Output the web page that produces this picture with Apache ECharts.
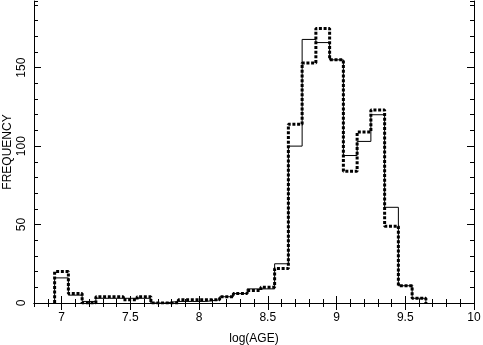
<!DOCTYPE html>
<html>
<head>
<meta charset="utf-8">
<script src="https://cdn.jsdelivr.net/npm/echarts@6/dist/echarts.min.js"></script>
<style>
html, body { margin: 0; padding: 0; background: #fff; }
#chart { width: 483px; height: 345px; }
</style>
</head>
<body>
<div id="chart"></div>
<script>
// histogram bins (centres), width 0.1 in log(AGE)
const binCenters = [7.0, 7.1, 7.2, 7.3, 7.4, 7.5, 7.6, 7.7, 7.8, 7.9, 8.0, 8.1, 8.2, 8.3,
  8.4, 8.5, 8.6, 8.7, 8.8, 8.9, 9.0, 9.1, 9.2, 9.3, 9.4, 9.5, 9.6]
const binWidth = 0.1
const solidCounts = [16, 5, 1, 3, 3, 3, 3, 0, 1, 1, 1, 2, 4, 6,
  9, 9, 25, 100, 168, 166, 155, 94, 103, 120, 61, 11, 3]
const dottedCounts = [20, 6, 0, 4, 4, 2, 4, 0, 0, 2, 2, 2, 4, 6,
  8, 10, 22, 114, 153, 175, 155, 84, 109, 123, 49, 11, 3]
const xMajorTicks = [7, 7.5, 8, 8.5, 9, 9.5, 10]
const yMajorTicks = [0, 50, 100, 150]

const X_MIN = 6.8
const X_MAX = 10
const Y_MAX = 192.5

// step outline: start at baseline, one point per right bin edge, back to baseline
function outline(counts) {
  const half = binWidth / 2
  const pts = [[+(binCenters[0] - half).toFixed(3), 0]]
  binCenters.forEach((c, i) => {
    pts.push([+(c + half).toFixed(3), counts[i]])
  })
  pts.push([+(binCenters[binCenters.length - 1] + half).toFixed(3), 0])
  return pts
}

const font = 'Liberation Sans'
const isMajor = (v, step) => Math.abs(v / step - Math.round(v / step)) < 1e-6

function xAxisDef(position, major) {
  return {
    type: 'value',
    position: position,
    min: X_MIN,
    max: X_MAX,
    interval: 0.1,
    axisLine: { show: !major, lineStyle: { color: '#000', width: 1 } },
    axisTick: major
      ? { show: true, inside: true, length: 7, customValues: xMajorTicks, lineStyle: { color: '#000' } }
      : { show: true, inside: true, length: 4, lineStyle: { color: '#000' } },
    axisLabel: (position === 'bottom' && !major)
      ? {
          show: true,
          margin: 9,
          color: '#000',
          fontFamily: font,
          fontSize: 12,
          formatter: v => isMajor(v, 0.5) ? String(+v.toFixed(1)) : ''
        }
      : { show: false },
    splitLine: { show: false },
    name: (position === 'bottom' && !major) ? 'log(AGE)' : '',
    nameLocation: 'middle',
    nameGap: 30,
    nameMoveOverlap: false,
    nameTextStyle: { color: '#000', fontFamily: font, fontSize: 12 }
  }
}

function yAxisDef(position, major) {
  return {
    type: 'value',
    position: position,
    min: 0,
    max: Y_MAX,
    interval: 10,
    axisLine: { show: !major, lineStyle: { color: '#000', width: 1 } },
    axisTick: major
      ? { show: true, inside: true, length: 7, customValues: yMajorTicks, lineStyle: { color: '#000' } }
      : { show: true, inside: true, length: 4, lineStyle: { color: '#000' } },
    axisLabel: (position === 'left' && !major)
      ? {
          show: true,
          rotate: 90,
          margin: 6,
          color: '#000',
          fontFamily: font,
          fontSize: 12,
          formatter: v => isMajor(v, 50) ? String(Math.round(v)) : ''
        }
      : { show: false },
    splitLine: { show: false },
    name: (position === 'left' && !major) ? 'FREQUENCY' : '',
    nameLocation: 'middle',
    nameRotate: 90,
    nameGap: 20,
    nameMoveOverlap: false,
    nameTextStyle: { color: '#000', fontFamily: font, fontSize: 12 }
  }
}

const myChart = echarts.init(document.getElementById('chart'), null, { renderer: 'canvas' })
const option = {
  animation: false,
  backgroundColor: '#fff',
  grid: {
    left: 34,
    right: 9,
    top: 1,
    bottom: 42,
    containLabel: false,
    outerBoundsMode: 'none'
  },
  xAxis: [
    xAxisDef('bottom', false),
    xAxisDef('bottom', true),
    xAxisDef('top', false),
    xAxisDef('top', true)
  ],
  yAxis: [
    yAxisDef('left', false),
    yAxisDef('left', true),
    yAxisDef('right', false),
    yAxisDef('right', true)
  ],
  series: [
    {
      name: 'solid',
      type: 'line',
      step: 'start',
      showSymbol: false,
      silent: true,
      lineStyle: { color: '#000', width: 1 },
      data: outline(solidCounts)
    },
    {
      name: 'dotted',
      type: 'line',
      step: 'start',
      showSymbol: false,
      silent: true,
      lineStyle: { color: '#000', width: 3, type: [3, 1.7], cap: 'butt' },
      data: outline(dottedCounts)
    }
  ]
}
myChart.setOption(option)
</script>
</body>
</html>
